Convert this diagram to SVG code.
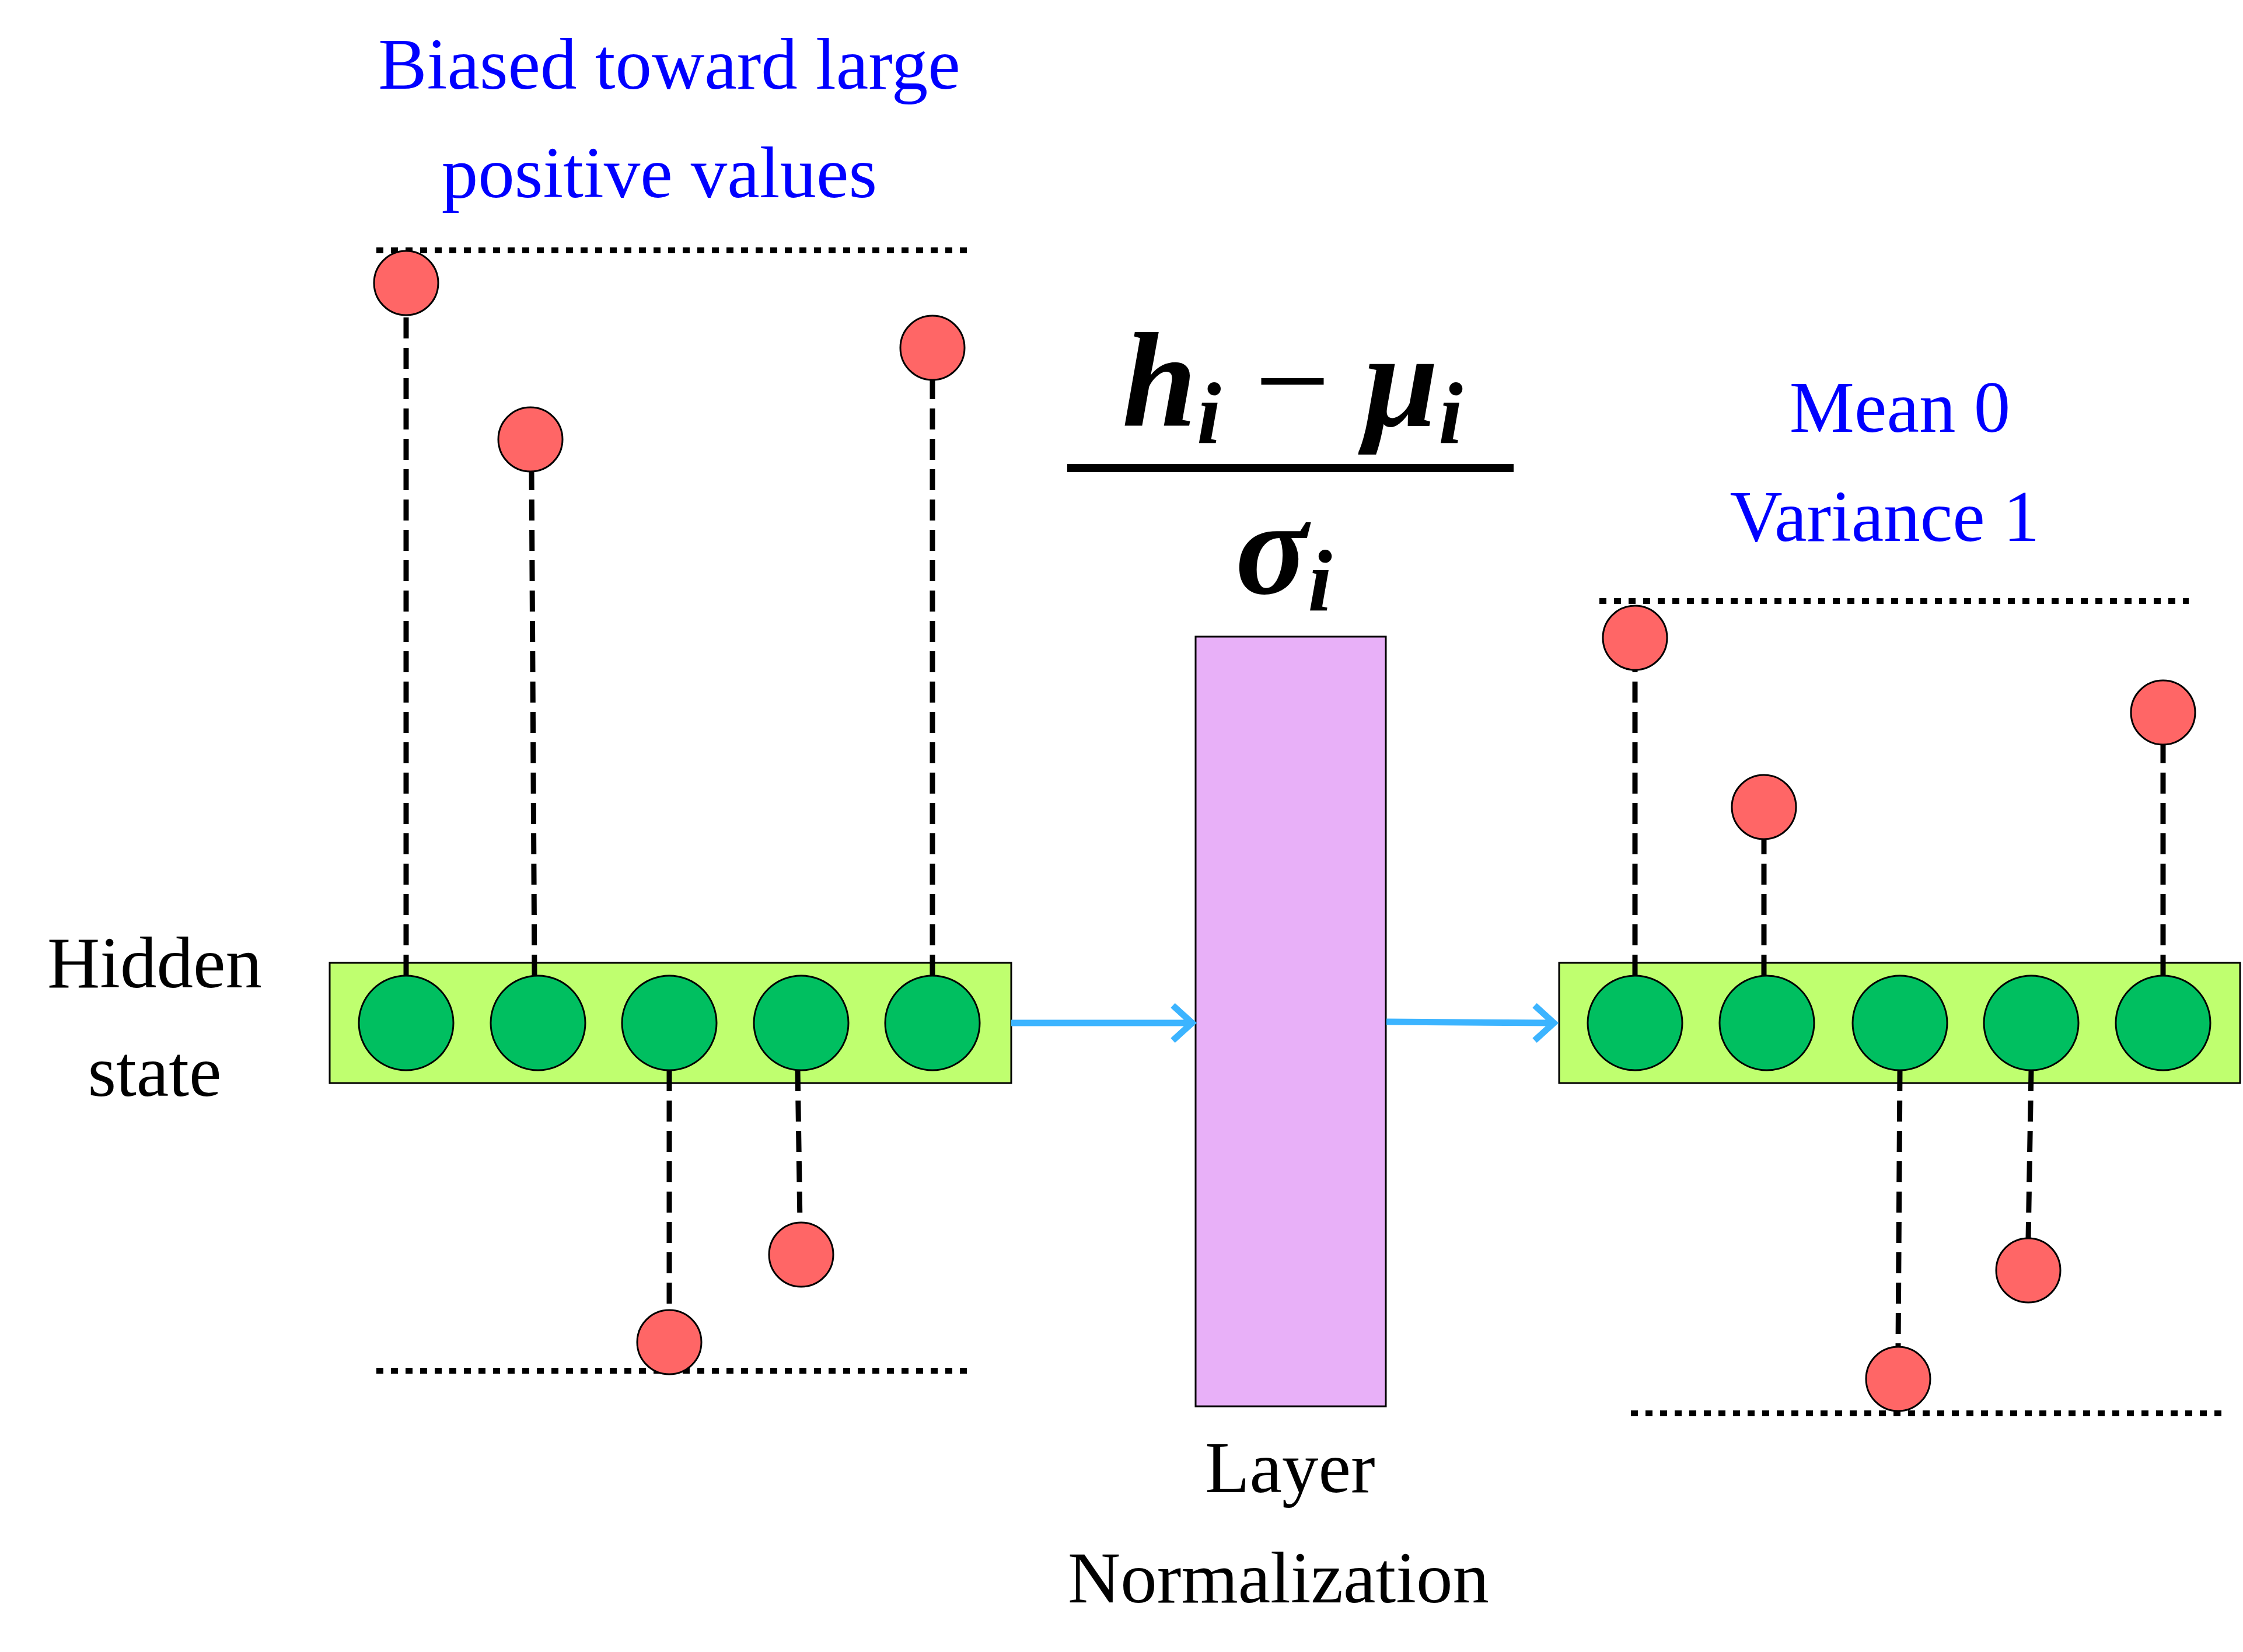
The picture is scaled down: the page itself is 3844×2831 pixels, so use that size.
<svg xmlns="http://www.w3.org/2000/svg" width="3844" height="2831" viewBox="0 0 3844 2831">
<style>
.t{font-family:"Liberation Serif","DejaVu Serif",serif;font-size:125px;text-anchor:middle}
.b{fill:#0000ff}
.k{fill:#000}
.dot{stroke:#000;stroke-width:10;stroke-dasharray:12 13;fill:none}
.dash{stroke:#000;stroke-width:9;stroke-dasharray:36 16;fill:none}
.g{fill:#00bf60;stroke:#000;stroke-width:3}
.r{fill:#ff6666;stroke:#000;stroke-width:3}
.bar{fill:#bfff6f;stroke:#000;stroke-width:3}
.arr{stroke:#3cb4ff;stroke-width:11;fill:none}
.f{font-family:"Liberation Serif","DejaVu Serif",serif;font-weight:bold;font-style:italic;font-size:230px;text-anchor:middle}
</style>
<rect width="3844" height="2831" fill="#fff"/>
<g id="labels">
<text class="t b" x="1147" y="152">Biased toward large</text>
<text class="t b" x="1130" y="338">positive values</text>
<text class="t b" x="3256" y="740">Mean 0</text>
<text class="t b" x="3230" y="927">Variance 1</text>
<text class="t k" x="265" y="1692">Hidden</text>
<text class="t k" x="265" y="1878">state</text>
<text class="t k" x="2211" y="2557">Layer</text>
<text class="t k" x="2191" y="2746">Normalization</text>
</g>
<g id="formula">
<text class="f" x="2215" y="730">h<tspan font-size="150" dy="30">i</tspan><tspan dy="-30" font-style="normal" font-weight="normal"> − </tspan>μ<tspan font-size="150" dy="30">i</tspan></text>
<rect x="1829" y="795" width="765" height="14" fill="#000"/>
<text class="f" x="2200" y="1017">σ<tspan font-size="150" dy="30">i</tspan></text>
</g>
<g id="guides">
<line class="dot" x1="645" y1="429" x2="1657" y2="429"/>
<line class="dot" x1="645" y1="2349" x2="1657" y2="2349"/>
<line class="dot" x1="2741" y1="1030" x2="3751" y2="1030"/>
<line class="dot" x1="2795" y1="2422" x2="3807" y2="2422"/>
</g>
<g id="left-layer">
<rect class="bar" x="565" y="1650" width="1168" height="206"/>
</g>
<g id="norm">
<rect x="2049" y="1091" width="326" height="1319" fill="#e8b0f8" stroke="#000" stroke-width="3"/>
</g>
<g id="right-layer">
<rect class="bar" x="2672" y="1650" width="1167" height="206"/>
</g>
<g id="connectors">
<line class="dash" x1="696" y1="1672" x2="696" y2="540"/>
<line class="dash" x1="916" y1="1672" x2="911" y2="808"/>
<line class="dash" x1="1598" y1="1672" x2="1598" y2="651"/>
<line class="dash" x1="1147" y1="1834" x2="1147" y2="2245"/>
<line class="dash" x1="1367" y1="1834" x2="1371" y2="2095"/>
<line class="dash" x1="2802" y1="1672" x2="2802" y2="1148"/>
<line class="dash" x1="3023" y1="1672" x2="3023" y2="1438"/>
<line class="dash" x1="3707" y1="1672" x2="3707" y2="1276"/>
<line class="dash" x1="3256" y1="1834" x2="3253" y2="2308"/>
<line class="dash" x1="3481" y1="1834" x2="3476" y2="2122"/>
<path class="arr" d="M1733 1753H2040M2010 1723L2043 1753L2010 1783"/>
<path class="arr" d="M2376 1751L2660 1753M2630 1723L2663 1753L2630 1783"/>
</g>
<g id="nodes">
<circle class="g" cx="696" cy="1753" r="81"/>
<circle class="g" cx="922" cy="1753" r="81"/>
<circle class="g" cx="1147" cy="1753" r="81"/>
<circle class="g" cx="1373" cy="1753" r="81"/>
<circle class="g" cx="1598" cy="1753" r="81"/>
<circle class="g" cx="2802" cy="1753" r="81"/>
<circle class="g" cx="3028" cy="1753" r="81"/>
<circle class="g" cx="3256" cy="1753" r="81"/>
<circle class="g" cx="3481" cy="1753" r="81"/>
<circle class="g" cx="3707" cy="1753" r="81"/>
<circle class="r" cx="696" cy="485" r="55"/>
<circle class="r" cx="909" cy="753" r="55"/>
<circle class="r" cx="1598" cy="596" r="55"/>
<circle class="r" cx="1147" cy="2300" r="55"/>
<circle class="r" cx="1373" cy="2150" r="55"/>
<circle class="r" cx="2802" cy="1093" r="55"/>
<circle class="r" cx="3023" cy="1383" r="55"/>
<circle class="r" cx="3707" cy="1221" r="55"/>
<circle class="r" cx="3253" cy="2363" r="55"/>
<circle class="r" cx="3476" cy="2177" r="55"/>
</g>
</svg>
